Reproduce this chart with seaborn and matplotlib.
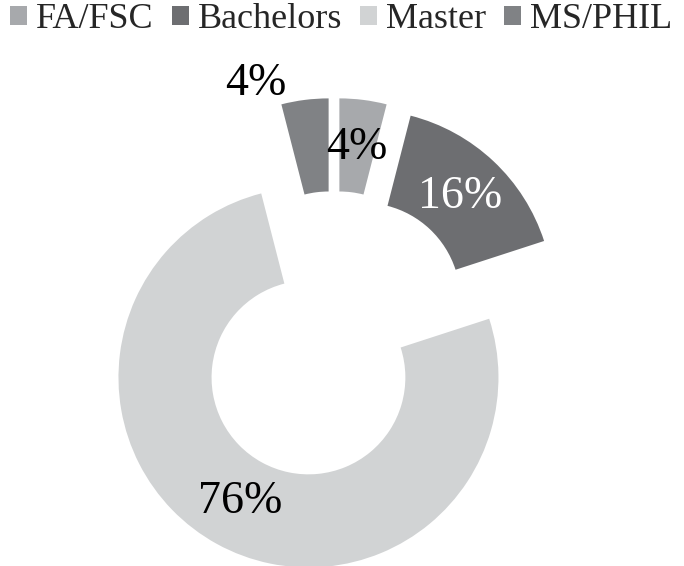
import math
import matplotlib
matplotlib.use("Agg")
import matplotlib.pyplot as plt
import seaborn as sns

# data
categories = ["FA/FSC", "Bachelors", "Master", "MS/PHIL"]
shares = [4, 16, 76, 4]
colors = ["#a7a9ac", "#6d6e71", "#d1d3d4", "#808285"]
label_colors = ["black", "white", "black", "black"]

sns.set_theme(style="white")
plt.rcParams["font.family"] = ["Liberation Serif", "DejaVu Serif"]

fig = plt.figure(figsize=(6.84, 5.66), dpi=100)
ax = fig.add_axes([0, 0, 1, 1])

palette = sns.color_palette(colors)
wedges, texts, autotexts = ax.pie(
    shares,
    colors=palette,
    startangle=90,
    counterclock=False,
    radius=1.0,
    explode=[0.226, 0.226, 0.279, 0.226],
    autopct="%1.0f%%",
    pctdistance=0.745,
    wedgeprops=dict(width=0.49, edgecolor="none", linewidth=0),
    textprops=dict(fontsize=33),
)

for t, c in zip(autotexts, label_colors):
    t.set_color(c)

# MS/PHIL label sits outside its thin wedge, up and to the left
w = wedges[3]
ang = math.radians(109.6)
autotexts[3].set_position((w.center[0] + 1.145 * math.cos(ang),
                           w.center[1] + 1.145 * math.sin(ang)))

ax.set_xlim(-334 / 190, 350 / 190)
ax.set_ylim(-235 / 190, 331 / 190)
ax.set_aspect("equal", adjustable="box")
ax.axis("off")

fig.legend(
    wedges, categories,
    loc="upper left", bbox_to_anchor=(10 / 684, 0.994),
    ncol=4, frameon=False, fontsize=26,
    handlelength=0.47, handleheight=0.47, handletextpad=0.25,
    columnspacing=0.5, borderpad=0, borderaxespad=0,
)

fig.savefig("out.png", dpi=100)
